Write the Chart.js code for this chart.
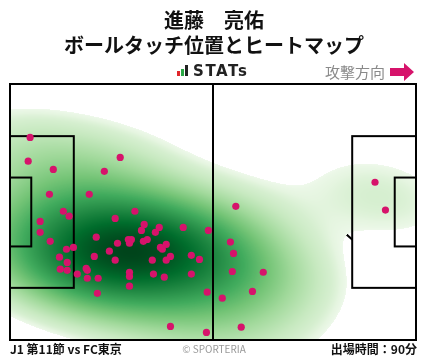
<!DOCTYPE html>
<html lang="ja">
<head>
<meta charset="utf-8">
<script src="https://cdn.jsdelivr.net/npm/chart.js@4.4.1/dist/chart.umd.min.js"></script>
<style>
  body { margin: 0; background: #fff; font-family: "Noto Sans CJK JP", "Noto Sans", sans-serif; }
  #wrap { position: relative; width: 428px; height: 359px; overflow: hidden; }
  #pitch { position: absolute; left: 0; top: 0; }
  .t { position: absolute; white-space: nowrap; color: #111; }
  #title { left: 0; width: 428px; top: 7px; text-align: center; font-size: 20px; font-weight: bold; line-height: 25px; }
  #stats { left: 177px; top: 62px; font-family: "DejaVu Sans", sans-serif; font-size: 15px; font-weight: bold; color: #222; letter-spacing: 1.6px; }
  #stats i { display: inline-block; width: 3px; margin-right: 1px; vertical-align: baseline; }
  #dir { left: 325px; top: 61px; font-size: 15px; color: #8a8a8a; }
  #arrow { position: absolute; left: 390px; top: 63px; }
  #round { left: 10px; top: 340px; font-size: 12px; font-weight: bold; }
  #copy { left: 0; width: 428px; text-align: center; top: 341px; font-size: 10px; color: #999; }
  #mins { right: 11px; top: 340px; font-size: 12px; font-weight: bold; }
</style>
</head>
<body>
<div id="wrap">
  <canvas id="pitch" width="428" height="359"></canvas>
  <div class="t" id="title">進藤　亮佑<br>ボールタッチ位置とヒートマップ</div>
  <div class="t" id="stats"><i style="height:5px;background:#e0262b"></i><i style="height:7px;background:#2aa845"></i><i style="height:11px;background:#222;margin-right:5px"></i>STATs</div>
  <div class="t" id="dir">攻撃方向</div>
  <svg id="arrow" width="25" height="18"><polygon points="0,5 14,5 14,0 24,9 14,18 14,13 0,13" fill="#d6136b"/></svg>
  <div class="t" id="round">J1 第11節 vs FC東京</div>
  <div class="t" id="copy">© SPORTERIA</div>
  <div class="t" id="mins">出場時間：90分</div>
</div>
<script>
// touch positions in metres (x: own goal -> attack, y: from top touchline)
const touchX = [5.2, 4.7, 11.2, 10.2, 20.5, 24.4, 28.5, 32.3, 27.2, 13.8,
                15.3, 7.8, 7.8, 10.4, 22.3, 34.7, 38.6, 37.6, 34.0, 44.8,
                51.3, 30.6, 31.4, 30.9, 27.8, 34.5, 35.5, 38.9, 39.4, 40.4,
                25.7, 16.4, 14.6, 12.8, 21.8, 14.8, 27.2, 13.0, 14.8, 19.7,
                20.0, 17.4, 20.0, 22.8, 36.8, 40.4, 41.5, 46.9, 49.0, 30.9,
                30.9, 37.1, 39.9, 46.9, 30.9, 22.6, 51.0, 41.5, 50.8, 58.4,
                94.4, 97.1, 57.0, 57.8, 57.5, 65.5, 62.7, 54.9, 59.8];
const touchY = [14.2, 20.5, 22.7, 29.3, 29.3, 23.2, 19.5, 33.8, 35.7, 33.8,
                35.1, 36.5, 39.4, 41.8, 40.7, 37.3, 38.1, 39.4, 38.9, 38.1,
                38.9, 41.3, 41.3, 42.3, 42.3, 41.8, 41.3, 43.4, 43.9, 42.6,
                44.4, 43.4, 43.9, 46.0, 45.8, 47.4, 46.8, 49.2, 49.5, 49.0,
                49.5, 50.5, 51.6, 51.6, 46.8, 46.8, 45.8, 45.5, 46.6, 50.0,
                51.1, 50.5, 51.3, 50.5, 53.7, 55.6, 55.3, 64.4, 66.0, 32.5,
                26.1, 33.5, 42.0, 45.0, 49.8, 50.0, 55.1, 56.9, 64.6];

const greens = ['#f7fcf5', '#e5f5e0', '#c7e9c0', '#a1d99b', '#74c476', '#41ab5d', '#238b45', '#006d2c', '#00441b'];

function hexRgb(h) {
  return [parseInt(h.slice(1, 3), 16), parseInt(h.slice(3, 5), 16), parseInt(h.slice(5, 7), 16)];
}
const greenRgb = greens.map(hexRgb);
function greenAt(t) {
  t = Math.max(0, Math.min(1, t)) * (greenRgb.length - 1);
  const i = Math.min(Math.floor(t), greenRgb.length - 2), f = t - i;
  const a = greenRgb[i], b = greenRgb[i + 1];
  return [a[0] + (b[0] - a[0]) * f, a[1] + (b[1] - a[1]) * f, a[2] + (b[2] - a[2]) * f];
}

// gaussian kde (scott bandwidth * adjust, full covariance)
function makeKde(xs, ys, adjust) {
  const n = xs.length;
  const mx = xs.reduce((s, v) => s + v, 0) / n;
  const my = ys.reduce((s, v) => s + v, 0) / n;
  let sxx = 0, syy = 0, sxy = 0;
  for (let i = 0; i < n; i++) {
    sxx += (xs[i] - mx) ** 2; syy += (ys[i] - my) ** 2; sxy += (xs[i] - mx) * (ys[i] - my);
  }
  const f2 = Math.pow(n, -1 / 3) * adjust * adjust;
  const hxx = sxx / (n - 1) * f2, hyy = syy / (n - 1) * f2, hxy = sxy / (n - 1) * f2;
  const det = hxx * hyy - hxy * hxy;
  const ixx = hyy / det, iyy = hxx / det, ixy = -hxy / det;
  const norm = 1 / (2 * Math.PI * Math.sqrt(det) * n);
  const kde = (x, y) => {
    let s = 0;
    for (let i = 0; i < n; i++) {
      const dx = x - xs[i], dy = y - ys[i];
      s += Math.exp(-0.5 * (ixx * dx * dx + 2 * ixy * dx * dy + iyy * dy * dy));
    }
    return s * norm;
  };
  kde.bwx = Math.sqrt(hxx); kde.bwy = Math.sqrt(hyy);
  return kde;
}

const kde = makeKde(touchX, touchY, 1.55);

// iso-proportion lookup like seaborn (grid extended by 3 bandwidths)
function massLookup() {
  const g = 160;
  const x0 = Math.min(...touchX) - 3 * kde.bwx, x1 = Math.max(...touchX) + 3 * kde.bwx;
  const y0 = Math.min(...touchY) - 3 * kde.bwy, y1 = Math.max(...touchY) + 3 * kde.bwy;
  const vals = [];
  for (let j = 0; j < g; j++) {
    for (let i = 0; i < g; i++) {
      vals.push(kde(x0 + (x1 - x0) * i / (g - 1), y0 + (y1 - y0) * j / (g - 1)));
    }
  }
  vals.sort((a, b) => a - b);
  const cum = [];
  let s = 0;
  for (const v of vals) { s += v; cum.push(s); }
  return d => {
    let lo = 0, hi = vals.length - 1;
    while (lo < hi) {
      const mid = (lo + hi) >> 1;
      if (vals[mid] < d) lo = mid + 1; else hi = mid;
    }
    return cum[lo] / s;
  };
}
const proportion = massLookup();
const thresh = 0.045;

const pitchPlugin = {
  id: 'pitch',
  beforeDatasetsDraw(chart) {
    const { ctx, chartArea: a, scales: { x, y } } = chart;
    const px = v => x.getPixelForValue(v), py = v => y.getPixelForValue(v);
    const rx = Math.abs(px(9.15) - px(0)), ry = Math.abs(py(9.15) - py(0));

    ctx.save();
    ctx.strokeStyle = '#000';
    ctx.lineWidth = 2;
    // circles & arcs (sit under the heat)
    ctx.beginPath();
    ctx.ellipse(px(52.5), py(34), rx, ry, 0, 0, Math.PI * 2);
    ctx.stroke();
    ctx.beginPath();
    ctx.ellipse(px(11), py(34), rx, ry, 0, -0.93, 0.93);
    ctx.stroke();
    ctx.beginPath();
    ctx.ellipse(px(94), py(34), rx, ry, 0, Math.PI - 0.93, Math.PI + 0.93);
    ctx.stroke();

    // heat
    if (!chart.$heat) {
      const w = Math.round(a.right - a.left), h = Math.round(a.bottom - a.top);
      const off = document.createElement('canvas');
      off.width = w; off.height = h;
      const octx = off.getContext('2d');
      const img = octx.createImageData(w, h);
      for (let j = 0; j < h; j++) {
        const vy = y.getValueForPixel(a.top + j + 0.5);
        for (let i = 0; i < w; i++) {
          const vx = x.getValueForPixel(a.left + i + 0.5);
          const p = proportion(kde(vx, vy));
          if (p < thresh) continue;
          const t = Math.pow((p - thresh) / (1 - thresh), 0.6);
          const c = greenAt(0.05 + t * 0.95);
          const k = (j * w + i) * 4;
          img.data[k] = c[0]; img.data[k + 1] = c[1]; img.data[k + 2] = c[2]; img.data[k + 3] = 255;
        }
      }
      octx.putImageData(img, 0, 0);
      chart.$heat = off;
    }
    ctx.drawImage(chart.$heat, a.left, a.top);

    // lines
    const line = (xa, ya, xb, yb) => {
      ctx.beginPath(); ctx.moveTo(px(xa), py(ya)); ctx.lineTo(px(xb), py(yb)); ctx.stroke();
    };
    const box = (xa, ya, xb, yb) => {
      ctx.strokeRect(px(xa), py(ya), px(xb) - px(xa), py(yb) - py(ya));
    };
    box(0, 0, 105, 68);
    line(52.5, 0, 52.5, 68);
    box(0, 13.85, 16.5, 54.15);
    box(0, 24.85, 5.5, 43.15);
    box(88.5, 13.85, 105, 54.15);
    box(99.5, 24.85, 105, 43.15);
    ctx.restore();
  }
};

new Chart(document.getElementById('pitch').getContext('2d'), {
  type: 'scatter',
  data: {
    datasets: [{
      label: 'touch',
      data: touchX.map((v, i) => ({ x: v, y: touchY[i] })),
      backgroundColor: '#d6136b',
      borderWidth: 0,
      pointRadius: 3.6,
      pointHoverRadius: 3.6
    }]
  },
  options: {
    responsive: false,
    animation: false,
    layout: { padding: { left: 10, right: 12, top: 84, bottom: 19 } },
    plugins: { legend: { display: false }, tooltip: { enabled: false } },
    scales: {
      x: { type: 'linear', display: false, min: 0, max: 105 },
      y: { type: 'linear', display: false, min: 0, max: 68, reverse: true }
    }
  },
  plugins: [pitchPlugin]
});
</script>
</body>
</html>
